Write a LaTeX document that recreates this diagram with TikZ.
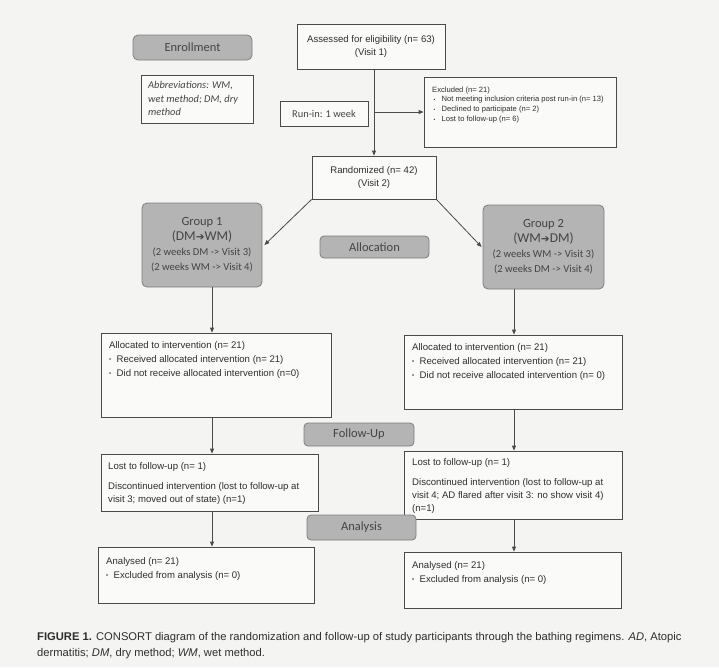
\documentclass[tikz,border=0pt]{standalone}
\usepackage{fontspec}
\setmainfont{Liberation Sans}
\newfontfamily\calfont{Carlito}
\newfontfamily\dvfont{DejaVu Sans}
\usetikzlibrary{arrows.meta}
\definecolor{bgcol}{HTML}{F4F4F2}
\definecolor{gfill}{HTML}{B4B4B4}
\definecolor{gline}{HTML}{7E7E7E}
\definecolor{lcol}{HTML}{4A4A4A}
\definecolor{tcol}{HTML}{2E2E2E}
\definecolor{gtcol}{HTML}{444444}
\newcommand\bul{\makebox[7.5pt][l]{\raisebox{0.3pt}{\fontsize{6}{6}\selectfont\textbullet}}}
\begin{document}
\begin{tikzpicture}[x=1pt,y=-1pt,
  wbox/.style={draw=lcol, fill=white!55!bgcol, line width=0.8pt, inner sep=0pt},
  gbox/.style={draw=gline, fill=gfill, line width=0.8pt, rounded corners=5pt, inner sep=0pt, text=gtcol, align=center},
  tbox/.style={draw=lcol, fill=white!55!bgcol, line width=0.8pt, inner sep=0pt, align=center, text=tcol},
  txt/.style={anchor=north west, inner sep=0pt, align=left, text=tcol, font=\fontsize{9.6}{14}\selectfont},
  conn/.style={draw=lcol, line width=0.8pt},
  arr/.style={conn, -{Triangle[length=5pt,width=4pt]}}]
\fill[bgcol] (0,0) rectangle (719,667);
\useasboundingbox (0,0) rectangle (719,667);
\coordinate (colL) at (212,0);
\coordinate (colR) at (514,0);
% top section
\node[gbox, minimum width=119pt, minimum height=25pt, font=\calfont\fontsize{12.5}{14}\selectfont] (enroll) at (192.5,47.5) {Enrollment};
\node[wbox, minimum width=112pt, minimum height=48pt] (abbr) at (197,99) {};
\node[txt, text=gtcol, font=\calfont\itshape\fontsize{10.4}{13.5}\selectfont] (abbrt) at (148,81.5) {Abbreviations: WM,\\wet method; DM, dry\\method};
\node[tbox, minimum width=148pt, minimum height=45pt, font=\fontsize{9.6}{13.5}\selectfont] (assess) at (371,46.5) {Assessed for eligibility (n= 63)\\(Visit 1)};
\node[tbox, minimum width=88pt, minimum height=25pt, text=gtcol, font=\calfont\fontsize{10.4}{12}\selectfont] (runin) at (324,113.5) {Run-in: 1 week};
\node[wbox, minimum width=192pt, minimum height=70pt] (excl) at (520,112) {};
\node[txt, font=\fontsize{7.6}{9.7}\selectfont] (exclt) at (432,86.5) {Excluded (n= 21)\\
  \hspace*{1.5pt}\makebox[8pt][l]{\fontsize{5}{5}\selectfont\textbullet}Not meeting inclusion criteria post run-in (n= 13)\\
  \hspace*{1.5pt}\makebox[8pt][l]{\fontsize{5}{5}\selectfont\textbullet}Declined to participate (n= 2)\\
  \hspace*{1.5pt}\makebox[8pt][l]{\fontsize{5}{5}\selectfont\textbullet}Lost to follow-up (n= 6)};
\node[tbox, minimum width=124pt, minimum height=43pt, font=\fontsize{9.6}{13.5}\selectfont] (rand) at (374,177.5) {Randomized (n= 42)\\(Visit 2)};
% allocation
\node[gbox, minimum width=120pt, minimum height=84pt, font=\calfont\fontsize{10.6}{15}\selectfont] (g1) at (202,245)
  {{\fontsize{12.5}{15}\selectfont Group 1}\\{\fontsize{13.5}{16}\selectfont (DM{\dvfont\fontsize{10.5}{10}\selectfont ➔}WM)}\\(2 weeks DM -> Visit 3)\\(2 weeks WM -> Visit 4)};
\node[gbox, minimum width=109pt, minimum height=22pt, rounded corners=4pt, font=\calfont\fontsize{12.5}{14}\selectfont] (alloc) at (374.5,247) {Allocation};
\node[gbox, minimum width=121pt, minimum height=84pt, font=\calfont\fontsize{10.6}{15}\selectfont] (g2) at (543.5,247)
  {{\fontsize{12.5}{15}\selectfont Group 2}\\{\fontsize{13.5}{16}\selectfont (WM{\dvfont\fontsize{10.5}{10}\selectfont ➔}DM)}\\(2 weeks WM -> Visit 3)\\(2 weeks DM -> Visit 4)};
\node[wbox, minimum width=230pt, minimum height=84pt] (al1) at (216,375) {};
\node[txt] (al1t) at (109,341) {Allocated to intervention (n= 21)\\
  \bul Received allocated intervention (n= 21)\\
  \bul Did not receive allocated intervention (n=0)};
\node[wbox, minimum width=218pt, minimum height=74pt] (al2) at (513,372) {};
\node[txt] (al2t) at (412,343) {Allocated to intervention (n= 21)\\
  \bul Received allocated intervention (n= 21)\\
  \bul Did not receive allocated intervention (n= 0)};
% follow-up
\node[gbox, minimum width=110pt, minimum height=23pt, rounded corners=4pt, font=\calfont\fontsize{12.5}{14}\selectfont] (fu) at (359,434.5) {Follow-Up};
\node[wbox, minimum width=217pt, minimum height=57pt] (lost1) at (209.5,482.5) {};
\node[txt, font=\fontsize{9.6}{12.5}\selectfont] (lost1t) at (108,462) {Lost to follow-up (n= 1)\\[8pt]
  Discontinued intervention (lost to follow-up at\\visit 3; moved out of state) (n=1)};
\node[wbox, minimum width=218pt, minimum height=68pt] (lost2) at (513,485) {};
\node[txt, font=\fontsize{9.6}{12.8}\selectfont] (lost2t) at (412,458.5) {Lost to follow-up (n= 1)\\[7pt]
  Discontinued intervention (lost to follow-up at\\visit 4; AD flared after visit 3: no show visit 4)\\(n=1)};
% analysis
\node[gbox, minimum width=109pt, minimum height=25pt, rounded corners=4pt, font=\calfont\fontsize{12.5}{14}\selectfont] (anal) at (361.5,527.5) {Analysis};
\node[wbox, minimum width=216pt, minimum height=56pt] (an1) at (206,575) {};
\node[txt] (an1t) at (106,557) {Analysed (n= 21)\\\bul Excluded from analysis (n= 0)};
\node[wbox, minimum width=217pt, minimum height=56pt] (an2) at (512.5,580) {};
\node[txt] (an2t) at (412,561) {Analysed (n= 21)\\\bul Excluded from analysis (n= 0)};
% caption
\node[anchor=base west, inner sep=0pt, text=tcol, font=\fontsize{11.2}{13}\selectfont] (cap1) at (37,640)
  {\textbf{FIGURE 1.} CONSORT diagram of the randomization and follow-up of study participants through the bathing regimens. \textit{AD}, Atopic};
\node[anchor=base west, inner sep=0pt, text=tcol, font=\fontsize{11.2}{13}\selectfont] (cap2) at (37,656)
  {dermatitis; \textit{DM}, dry method; \textit{WM}, wet method.};
% connectors
\draw[arr] (assess.south -| rand.north) -- (rand.north);
\coordinate (junc) at (374,112);
\draw[arr] (junc) -- (junc -| excl.west);
\draw[arr] (rand.south west) -- ([xshift=2pt]g1.east);
\draw[arr] (rand.south east) -- ([xshift=-1pt]g2.west);
\draw[arr] (g1.south -| colL) -- (al1.north -| colL);
\draw[arr] (g2.south -| colR) -- (al2.north -| colR);
\draw[arr] (al1.south -| colL) -- (lost1.north -| colL);
\draw[arr] (al2.south -| colR) -- (lost2.north -| colR);
\draw[arr] (lost1.south -| colL) -- (an1.north -| colL);
\draw[arr] (lost2.south -| colR) -- (an2.north -| colR);
\end{tikzpicture}
\end{document}
